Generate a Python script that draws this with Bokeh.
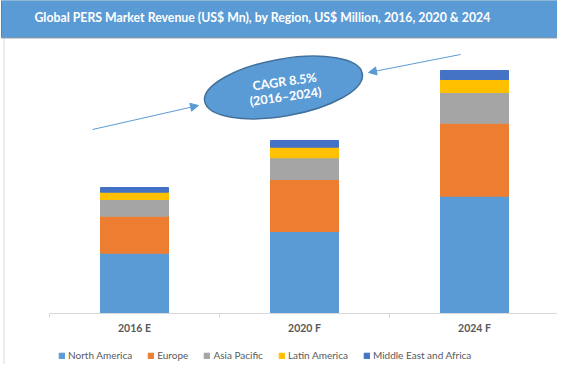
from bokeh.plotting import figure
from bokeh.models import (Range1d, Legend, LegendItem, Arrow, NormalHead, ColumnDataSource)
from bokeh.core.properties import value
from bokeh.embed import file_html
from bokeh.resources import INLINE

# ---- data ----
categories = ["2016 E", "2020 F", "2024 F"]
regions = ["North America", "Europe", "Asia Pacific", "Latin America", "Middle East and Africa"]
north_america = [603, 820, 1173]
europe = [370, 520, 730]
asia_pacific = [167, 217, 307]
latin_america = [73, 106, 130]
middle_east_africa = [47, 67, 90]
colors = ["#5B9BD5", "#ED7D31", "#A5A5A5", "#FFC000", "#4472C4"]
title_text = "Global PERS Market Revenue (US$ Mn), by Region, US$ Million, 2016, 2020 & 2024"
cagr_lines = ["CAGR 8.5%", "(2016\u20132024)"]

W, H = 557, 364
FONT = "Lato"
CAT_PX = 170.0      # width of one category slot in pixels
LEFT_PX = 49.0      # left edge of first category slot

keys = ["na", "eu", "ap", "la", "mea"]
xpos = [i + 0.5 for i in range(len(categories))]
src = ColumnDataSource(dict(x=xpos, cat=categories, na=north_america, eu=europe, ap=asia_pacific,
                            la=latin_america, mea=middle_east_africa))

p = figure(width=W, height=H,
           x_range=Range1d(-LEFT_PX / CAT_PX, (W - LEFT_PX) / CAT_PX),
           y_range=Range1d(-510, 3130),
           x_axis_location=None, y_axis_location=None,
           output_backend="svg", toolbar_location=None, min_border=0)
p.grid.visible = False
p.outline_line_color = None
p.background_fill_color = "white"
p.extra_x_ranges = {"px": Range1d(0, W)}
p.extra_y_ranges = {"px": Range1d(H, 0)}

# chart border (left edge visible)
p.segment(x0=[3.5], y0=[37], x1=[3.5], y1=[H], line_color="#D9D9D9", line_width=1,
          x_range_name="px", y_range_name="px")

rs = p.vbar_stack(keys, x="x", width=0.4, color=colors, source=src)

# category labels
p.text(x="x", y=-145, text="cat", source=src, text_font=value(FONT), text_font_style="bold",
       text_font_size="10.5px", text_color="#595959", text_align="center", text_baseline="middle")

# baseline and boundary ticks
nb = len(categories)
p.segment(x0=[0], y0=[0], x1=[nb], y1=[0], line_color="#D9D9D9", line_width=1)
p.segment(x0=list(range(nb + 1)), y0=[0] * (nb + 1), x1=list(range(nb + 1)), y1=[-40] * (nb + 1),
          line_color="#D9D9D9", line_width=1)

# title banner
p.quad(left=[1], right=[W + 2], top=[0], bottom=[37], fill_color="#5B9BD5", line_color="#4F86B8",
       line_width=1, x_range_name="px", y_range_name="px")
p.segment(x0=[0], y0=[37.5], x1=[W], y1=[37.5], line_color="#A0A8B0", line_width=1,
          x_range_name="px", y_range_name="px")
p.text(x=[262], y=[17], text=[title_text], text_font=value(FONT), text_font_style="bold",
       text_font_size="12.3px", text_color="white", text_align="center", text_baseline="middle",
       x_range_name="px", y_range_name="px")

# CAGR ellipse
p.ellipse(x=[283], y=[87], width=[160], height=[57], angle=[10], angle_units="deg",
          width_units="screen", height_units="screen",
          fill_color="#5B9BD5", line_color="#41719C", line_width=1.5,
          x_range_name="px", y_range_name="px")
p.text(x=[284, 285], y=[81, 96], text=cagr_lines, angle=[8, 8], angle_units="deg",
       text_font=value(FONT), text_font_style="bold", text_font_size="12.5px", text_color="white",
       text_align="center", text_baseline="middle", x_range_name="px", y_range_name="px")

# arrows
for (xs, ys, xe, ye) in [(92, 129, 198, 105), (460, 54, 368, 72)]:
    p.add_layout(Arrow(x_start=xs, y_start=ys, x_end=xe, y_end=ye,
                       line_color="#5B9BD5", line_width=1,
                       end=NormalHead(size=8, fill_color="#5B9BD5", line_color="#5B9BD5"),
                       x_range_name="px", y_range_name="px"))

legend = Legend(items=[LegendItem(label=r, renderers=[g]) for r, g in zip(regions, rs)],
                orientation="horizontal", location=(58, 3),
                glyph_width=7, glyph_height=7, label_standoff=3, spacing=15,
                padding=0, margin=0, label_height=12,
                label_text_font=FONT, label_text_font_size="10px", label_text_color="#595959",
                border_line_color=None, background_fill_alpha=0)
p.add_layout(legend)

open("out.html", "w").write(file_html(p, INLINE))
